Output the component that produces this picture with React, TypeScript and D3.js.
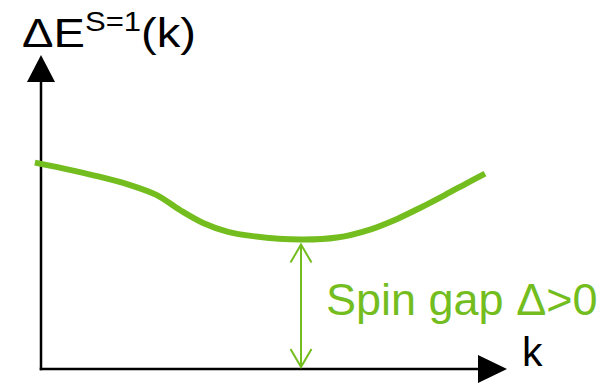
import React from "react";
import * as d3 from "d3";

// Sketch dispersion ΔE^{S=1}(k) (arbitrary units)
const kValues = [-0.14, 0.5, 1.28, 2.04, 2.65, 3.18, 3.71, 4.26, 4.85, 5.95, 6.77, 7.53, 8.15, 8.67, 9.24, 9.75, 10.16];
const energyValues = [7.19, 6.99, 6.72, 6.41, 6.06, 5.54, 5.09, 4.79, 4.63, 4.51, 4.58, 4.86, 5.23, 5.61, 6.06, 6.48, 6.81];
const gapK = 5.95;
const gapValue = 4.51;
const yAxisLabel = ["ΔE", "S=1", "(k)"];
const xAxisLabel = "k";
const gapLabel = "Spin gap Δ>0";

const W = 616;
const H = 383;
const GREEN = "#73bd1f";

export default function App() {
  const x = d3.scaleLinear().domain([0, 10]).range([41, 478]);
  const y = d3.scaleLinear().domain([0, 10]).range([369, 82]);
  const line = d3
    .line<number>()
    .x((_, i) => x(kValues[i]))
    .y((d) => y(d))
    .curve(d3.curveCatmullRom.alpha(0.5));

  const x0 = x(0);
  const y0 = y(0);
  const yTop = y(10);
  const xEnd = x(10);
  const gx = x(gapK);
  const gTop = y(gapValue) + 5;
  const gBot = y0 - 2;
  const ah = 18;
  const aw = 10.5;

  return (
    <svg
      width={W}
      height={H}
      style={{ position: "absolute", left: 0, top: 0, background: "#fff" }}
      fontFamily="'Liberation Sans', Arial, sans-serif"
    >
      {/* axes */}
      <line x1={x0} y1={yTop} x2={x0} y2={y0 + 1.25} stroke="#000" strokeWidth={2.5} />
      <line x1={x0 - 1.25} y1={y0} x2={xEnd} y2={y0} stroke="#000" strokeWidth={2.5} />
      <polygon points={`${x0},${yTop - 27} ${x0 - 14},${yTop} ${x0 + 14},${yTop}`} fill="#000" />
      <polygon points={`${xEnd + 29},${y0} ${xEnd},${y0 - 14} ${xEnd},${y0 + 14}`} fill="#000" />

      {/* curve */}
      <path d={line(energyValues) || ""} fill="none" stroke={GREEN} strokeWidth={6} />

      {/* gap arrow */}
      <line x1={gx} y1={gTop} x2={gx} y2={gBot} stroke={GREEN} strokeWidth={2} />
      <polyline
        points={`${gx - aw},${gTop + ah} ${gx},${gTop} ${gx + aw},${gTop + ah}`}
        fill="none"
        stroke={GREEN}
        strokeWidth={2}
      />
      <polyline
        points={`${gx - aw},${gBot - ah} ${gx},${gBot} ${gx + aw},${gBot - ah}`}
        fill="none"
        stroke={GREEN}
        strokeWidth={2}
      />

      {/* labels */}
      <g transform="translate(22,47) scale(1.15,1)">
        <text x={0} y={0} fontSize={41} fill="#000">
          {yAxisLabel[0]}
          <tspan fontSize={27} dy={-16}>{yAxisLabel[1]}</tspan>
          <tspan dy={16}>{yAxisLabel[2]}</tspan>
        </text>
      </g>
      <text x={522} y={366} fontSize={41} fill="#000">
        {xAxisLabel}
      </text>
      <text x={326} y={315} fontSize={45} fill={GREEN}>
        {gapLabel}
      </text>
    </svg>
  );
}
